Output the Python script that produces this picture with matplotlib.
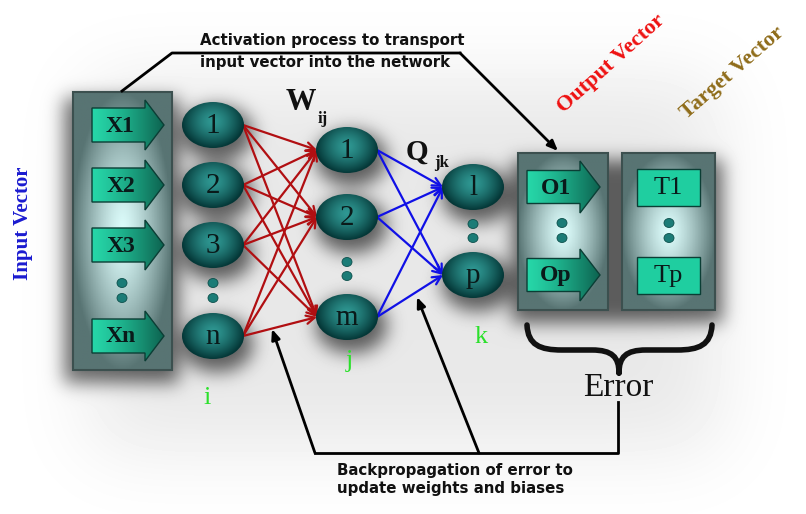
"""
Backpropagation network diagram
"""
import numpy as np
import matplotlib.pyplot as plt
from matplotlib.patches import Ellipse, Polygon, Rectangle, PathPatch
from matplotlib.path import Path
from matplotlib.colors import to_rgb

W, H = 806, 514

# labels
input_labels = ['X1', 'X2', 'X3', 'Xn']
input_nodes = ['1', '2', '3', 'n']
hidden_nodes = ['1', '2', 'm']
output_nodes = ['l', 'p']
output_labels = ['O1', 'Op']
target_labels = ['T1', 'Tp']
top_text = ['Activation process to transport', 'input vector into the network']
bottom_text = ['Backpropagation of error to', 'update weights and biases']

# layout in pixels
in_y = [125, 185, 245, 336]
hid_y = [150, 217, 317]
out_y = [187, 275]
x_i, x_j, x_k = 213, 347, 473
NW, NH = 62, 46

SERIF = 'Liberation Serif'

fig = plt.figure(figsize=(W / 100, H / 100), dpi=100)
ax = fig.add_axes([0, 0, 1, 1])
ax.axis('off')


def blur(a, sigma):
    r = int(3 * sigma)
    k = np.exp(-0.5 * (np.arange(-r, r + 1) / sigma) ** 2)
    k /= k.sum()
    a = np.apply_along_axis(lambda m: np.convolve(m, k, mode='same'), 1, a)
    a = np.apply_along_axis(lambda m: np.convolve(m, k, mode='same'), 0, a)
    return a


# soft drop shadows on the background
yy, xx = np.mgrid[0:H, 0:W]
mask = np.zeros((H, W))


def rect_mask(x0, y0, x1, y1, w=1.0):
    mask[(xx >= x0) & (xx <= x1) & (yy >= y0) & (yy <= y1)] += w


def ell_mask(cx, cy, a, b, w=1.0):
    mask[((xx - cx) / a) ** 2 + ((yy - cy) / b) ** 2 <= 1] += w


rect_mask(64, 98, 178, 382)
rect_mask(512, 160, 616, 322)
rect_mask(616, 160, 722, 322)
for y in in_y:
    ell_mask(x_i + 4, y + 8, 36, 28)
for y in hid_y:
    ell_mask(x_j + 4, y + 8, 36, 28)
for y in out_y:
    ell_mask(x_k + 4, y + 8, 36, 28)
shade = blur(np.clip(mask, 0, 1), 9) * 0.55
haze = np.zeros((H, W))
haze[80:450, 90:720] = 1
shade += blur(haze, 40) * 0.09
bg = np.clip(1 - shade, 0, 1)
ax.imshow(bg, cmap='gray', vmin=0, vmax=1, extent=(0, W, H, 0), aspect='auto', zorder=0)


def lerp(c0, c1, t):
    c0, c1 = np.array(to_rgb(c0)), np.array(to_rgb(c1))
    return c0 * (1 - t[..., None]) + c1 * t[..., None]


def radial_img(nx, ny, c_in, c_out, cy=0.5, p=1.3):
    v, u = np.mgrid[0:ny, 0:nx]
    u = (u + 0.5) / nx * 2 - 1
    v = (v + 0.5) / ny - cy
    v = v / max(cy, 1 - cy)
    r = np.clip(np.sqrt(u ** 2 + v ** 2), 0, 1) ** p
    return lerp(c_in, c_out, r)


def clipped_img(img, patch, extent, z):
    ax.add_patch(patch)
    im = ax.imshow(img, extent=extent, aspect='auto', zorder=z)
    im.set_clip_path(patch)


node_img = radial_img(64, 48, '#2f9893', '#043737', cy=0.42, p=1.4)
box_img = radial_img(60, 120, '#dcfcfb', '#587473', cy=0.5, p=1.35)


def node(x, y, label):
    e = Ellipse((x, y), NW, NH, facecolor='none', edgecolor='none', zorder=3)
    clipped_img(node_img, e, (x - NW / 2, x + NW / 2, y + NH / 2, y - NH / 2), 3)
    ax.text(x, y + 1, label, ha='center', va='center', fontsize=21,
            family=SERIF, color='#0a1a1a', zorder=4)


def dots(x, y0, y1):
    for y in (y0, y1):
        ax.add_patch(Ellipse((x, y), 10, 9, facecolor='#1b7c77', edgecolor='#0d4f4b',
                             lw=0.6, zorder=4))


def vbox(x0, y0, x1, y1):
    r = Rectangle((x0, y0), x1 - x0, y1 - y0, facecolor='none', edgecolor='none', zorder=2)
    clipped_img(box_img, r, (x0, x1, y1, y0), 2)
    ax.add_patch(Rectangle((x0, y0), x1 - x0, y1 - y0, facecolor='none',
                           edgecolor='#3c504f', lw=1.5, zorder=2.5))


arrow_img = lerp('#26d6a8', '#0d6350', np.tile(np.linspace(0, 1, 80) ** 1.3, (20, 1)))


def big_arrow(x0, xb, xt, y, hb, hh, label):
    pts = [(x0, y - hb), (xb, y - hb), (xb, y - hh), (xt, y), (xb, y + hh),
           (xb, y + hb), (x0, y + hb)]
    p = Polygon(pts, closed=True, facecolor='none', edgecolor='none', zorder=3)
    clipped_img(arrow_img, p, (x0, xt, y + hh, y - hh), 3)
    ax.add_patch(Polygon(pts, closed=True, facecolor='none', edgecolor='#0b3e35',
                         lw=1.0, zorder=3.5))
    ax.text((x0 + xb) / 2 + 2, y + 1, label, ha='center', va='center', fontsize=17,
            fontweight='bold', family=SERIF, color='#0a1a1a', zorder=4)


# input vector box
vbox(73, 92, 172, 370)
for y, lab in zip(in_y, input_labels):
    big_arrow(92, 145, 164, y, 17, 25, lab)
dots(122, 283, 298)

# output and target boxes
vbox(518, 153, 608, 310)
vbox(622, 153, 715, 310)
for y, lab in zip(out_y, output_labels):
    big_arrow(527, 580, 600, y, 16.5, 26, lab)
dots(562, 223, 238)
for y, lab in zip(out_y, target_labels):
    ax.add_patch(Rectangle((637, y - 18.5), 63, 37, facecolor='#1fcea0',
                           edgecolor='#0b3e35', lw=1.0, zorder=3))
    ax.text(668.5, y + 1, lab, ha='center', va='center', fontsize=19,
            family=SERIF, color='#0a1a1a', zorder=4)
dots(669, 223, 238)

# connections
for yi in in_y:
    for yj in hid_y:
        ax.annotate('', xy=(x_j - NW / 2 + 1, yj), xytext=(x_i + NW / 2 - 1, yi),
                    arrowprops=dict(arrowstyle='->,head_length=0.6,head_width=0.3',
                                    color='#b10f12', lw=1.6, shrinkA=0, shrinkB=0),
                    zorder=2.8)
for yj in hid_y:
    for yk in out_y:
        ax.annotate('', xy=(x_k - NW / 2 + 1, yk), xytext=(x_j + NW / 2 - 1, yj),
                    arrowprops=dict(arrowstyle='->,head_length=0.6,head_width=0.3',
                                    color='#1010e6', lw=1.6, shrinkA=0, shrinkB=0),
                    zorder=2.8)

# nodes
for y, lab in zip(in_y, input_nodes):
    node(x_i, y, lab)
dots(x_i, 283, 298)
for y, lab in zip(hid_y, hidden_nodes):
    node(x_j, y, lab)
dots(x_j, 262, 276)
for y, lab in zip(out_y, output_nodes):
    node(x_k, y, lab)
dots(x_k, 224, 238)

# layer letters and weights
green = '#2be02b'
ax.text(207, 398, 'i', ha='center', va='center', fontsize=19, family=SERIF, color=green)
ax.text(349, 361, 'j', ha='center', va='center', fontsize=19, family=SERIF, color=green)
ax.text(481, 337, 'k', ha='center', va='center', fontsize=19, family=SERIF, color=green)
ax.text(301, 103, 'W', ha='center', va='center', fontsize=22, fontweight='bold',
        family=SERIF, color='#111111')
ax.text(323, 119, 'ij', ha='center', va='center', fontsize=12, fontweight='bold',
        family=SERIF, color='#111111')
ax.text(417, 152, 'Q', ha='center', va='center', fontsize=21, fontweight='bold',
        family=SERIF, color='#111111')
ax.text(442, 163, 'jk', ha='center', va='center', fontsize=12, fontweight='bold',
        family=SERIF, color='#111111')

# vector titles
ax.text(23, 223, 'Input Vector', rotation=90, ha='center', va='center', fontsize=15,
        fontweight='bold', family=SERIF, color='#1a1ad0')
ax.text(611, 64, 'Output Vector', rotation=42, ha='center', va='center', fontsize=16,
        fontweight='bold', family=SERIF, color='#ee1111', rotation_mode='anchor')
ax.text(732, 73, 'Target Vector', rotation=41, ha='center', va='center', fontsize=16,
        fontweight='bold', family=SERIF, color='#8f6c1a', rotation_mode='anchor')

# error brace
brace = Path([(527, 325), (528, 345), (540, 350), (562, 350), (592, 350),
              (612, 350), (619, 357), (619, 373),
              (712, 325), (711, 345), (699, 350), (677, 350), (646, 350),
              (626, 350), (619, 357), (619, 373)],
             [Path.MOVETO, Path.CURVE4, Path.CURVE4, Path.CURVE4, Path.LINETO,
              Path.CURVE4, Path.CURVE4, Path.CURVE4,
              Path.MOVETO, Path.CURVE4, Path.CURVE4, Path.CURVE4, Path.LINETO,
              Path.CURVE4, Path.CURVE4, Path.CURVE4])
ax.add_patch(PathPatch(brace, facecolor='none', edgecolor='#111111', lw=4,
                       capstyle='round', zorder=4))
ax.text(618, 388, 'Error', ha='center', va='center', fontsize=24, family=SERIF,
        color='#111111')

# activation path
ax.plot([122, 172, 460], [91, 53, 53], color='black', lw=2, zorder=5)
ax.annotate('', xy=(558, 151), xytext=(460, 53),
            arrowprops=dict(arrowstyle='-|>,head_length=0.6,head_width=0.25',
                            color='black', lw=2, shrinkA=0, shrinkB=0), zorder=5)
ax.text(200, 40, top_text[0], ha='left', va='center', fontsize=10.8, fontweight='bold',
        color='#111111')
ax.text(200, 63, top_text[1], ha='left', va='center', fontsize=10.8, fontweight='bold',
        color='#111111')

# backpropagation path
ax.plot([618, 618, 315], [402, 453, 453], color='black', lw=2, zorder=5)
ax.annotate('', xy=(272, 329), xytext=(315, 453),
            arrowprops=dict(arrowstyle='-|>,head_length=0.6,head_width=0.25',
                            color='black', lw=2, shrinkA=0, shrinkB=0), zorder=5)
ax.annotate('', xy=(417, 297), xytext=(479, 453),
            arrowprops=dict(arrowstyle='-|>,head_length=0.6,head_width=0.25',
                            color='black', lw=2, shrinkA=0, shrinkB=0), zorder=5)
ax.text(337, 470, bottom_text[0], ha='left', va='center', fontsize=10.8, fontweight='bold',
        color='#111111')
ax.text(337, 489, bottom_text[1], ha='left', va='center', fontsize=10.8, fontweight='bold',
        color='#111111')

ax.set_xlim(0, W)
ax.set_ylim(H, 0)
plt.savefig('out.png', dpi=100, facecolor='white')
plt.close()
